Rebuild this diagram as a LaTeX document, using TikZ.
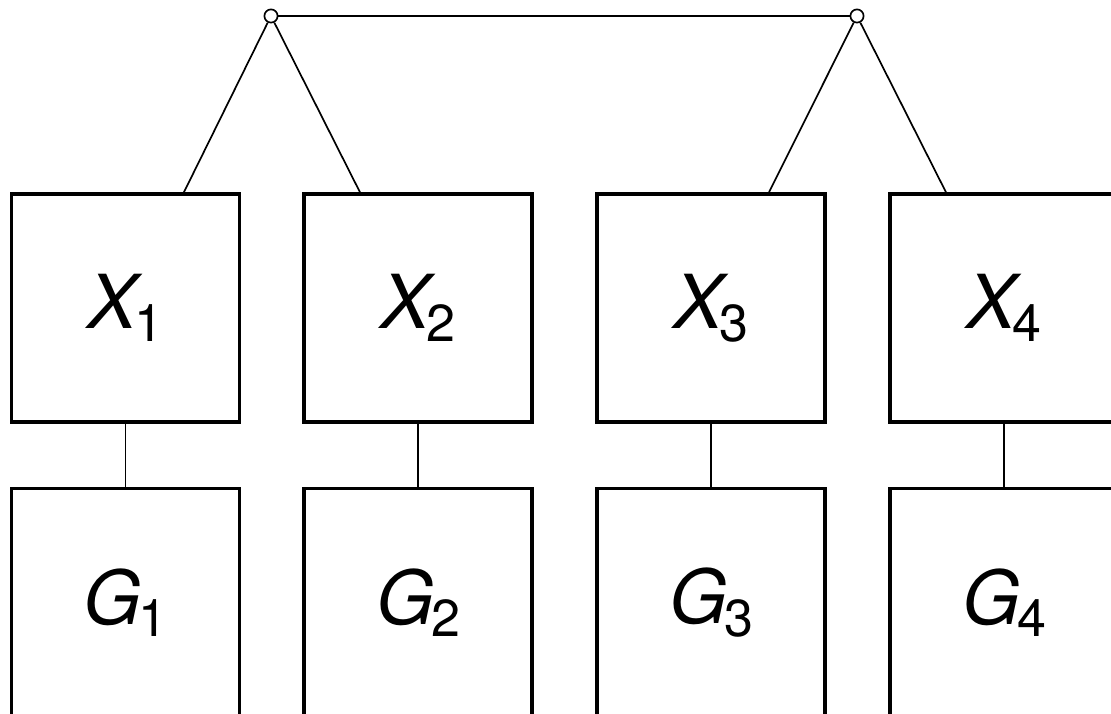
\documentclass[tikz,border=0pt]{standalone}
\usepackage{fontspec}
\setmainfont{TeX Gyre Heros}
\newcommand{\lbl}[3][-0.12em]{\textit{#2}\kern#1\raisebox{-0.17em}{\fontsize{37}{40}\selectfont #3}}
\begin{document}
\begin{tikzpicture}[scale=1]
	\tikzstyle{block}=[draw, line width=2.4pt, minimum width=5.7cm, minimum height=5.7cm, inner sep=0pt, font=\fontsize{53}{60}\selectfont]
	\tikzstyle{link}=[line width=1.2pt]
	\tikzstyle{junction}=[draw, circle, fill=white, line width=1.2pt, minimum size=0.33cm, inner sep=0pt]
	
	\useasboundingbox (0,0) rectangle (27.775,17.85);
	
	\node[block] (x1) at (3.1375,10.15) {\lbl{X}{1}};
	\node[block] (x2) at (10.45,10.15) {\lbl{X}{2}};
	\node[block] (x3) at (17.775,10.15) {\lbl{X}{3}};
	\node[block] (x4) at (25.1,10.15) {\lbl{X}{4}};
	
	\node[block] (g1) at (3.1375,2.78) {\lbl[-0.04em]{G}{1}};
	\node[block] (g2) at (10.45,2.78) {\lbl[-0.04em]{G}{2}};
	\node[block] (g3) at (17.775,2.78) {\lbl[-0.04em]{G}{3}};
	\node[block] (g4) at (25.1,2.78) {\lbl[-0.04em]{G}{4}};
	
	\node[junction] (j1) at (6.775,17.45) {};
	\node[junction] (j2) at (21.425,17.45) {};
	
	\draw[link] (j1) -- (j2);
	\draw[link] (j1) -- ([xshift=1.46cm]x1.north);
	\draw[link] (j1) -- ([xshift=-1.45cm]x2.north);
	\draw[link] (j2) -- ([xshift=1.45cm]x3.north);
	\draw[link] (j2) -- ([xshift=-1.45cm]x4.north);
	
	\draw[link] (x1) -- (g1);
	\draw[link] (x2) -- (g2);
	\draw[link] (x3) -- (g3);
	\draw[link] (x4) -- (g4);
	
\end{tikzpicture}
\end{document}
